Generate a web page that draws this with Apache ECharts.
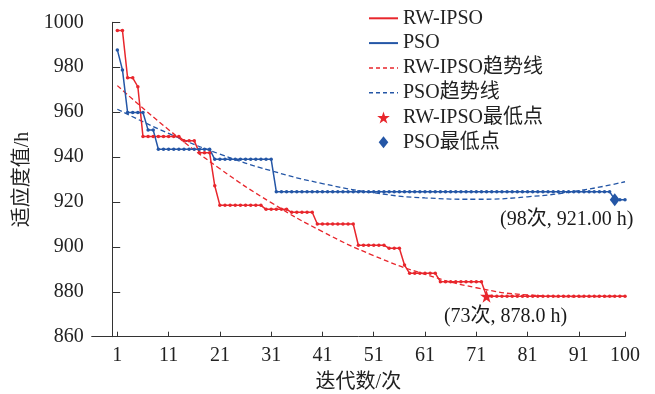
<!DOCTYPE html>
<html><head><meta charset="utf-8">
<script src="https://cdn.jsdelivr.net/npm/echarts@6/dist/echarts.min.js"></script>
<style>html,body{margin:0;padding:0;background:#fff}#c{width:655px;height:394px}</style>
</head><body><div id="c"></div>
<script>
// Iteration numbers 1..100
const iterations = Array.from({length: 100}, (_, i) => i + 1);

// RW-IPSO fitness per iteration
const rwIpso = [
  996.3, 996.3, 975.3, 975.3, 971.3,
  949.1, 949.1, 949.1, 949.1, 949.1, 949.1, 949.1, 949.1,
  947.2, 947.2, 947.2,
  941.9, 941.9, 941.9,
  927.2,
  918.5, 918.5, 918.5, 918.5, 918.5, 918.5, 918.5, 918.5, 918.5,
  916.7, 916.7, 916.7, 916.7, 916.7,
  915.4, 915.4, 915.4, 915.4, 915.4,
  910.2, 910.2, 910.2, 910.2, 910.2, 910.2, 910.2, 910.2,
  900.7, 900.7, 900.7, 900.7, 900.7, 900.7,
  899.4, 899.4, 899.4,
  891.9,
  888.2, 888.2, 888.2, 888.2, 888.2, 888.2,
  884.5, 884.5, 884.5, 884.5, 884.5, 884.5, 884.5, 884.5, 884.5,
  878.0, 878.0, 878.0, 878.0, 878.0, 878.0, 878.0, 878.0, 878.0, 878.0,
  878.0, 878.0, 878.0, 878.0, 878.0, 878.0, 878.0, 878.0, 878.0, 878.0,
  878.0, 878.0, 878.0, 878.0, 878.0, 878.0, 878.0, 878.0
];

// PSO fitness per iteration
const pso = [
  987.7, 978.8,
  959.8, 959.8, 959.8, 959.8,
  952.0, 952.0,
  943.5, 943.5, 943.5, 943.5, 943.5, 943.5, 943.5, 943.5, 943.5, 943.5, 943.5,
  939.0, 939.0, 939.0, 939.0, 939.0, 939.0, 939.0, 939.0, 939.0, 939.0, 939.0, 939.0,
  924.6, 924.6, 924.6, 924.6, 924.6, 924.6, 924.6, 924.6, 924.6, 924.6,
  924.6, 924.6, 924.6, 924.6, 924.6, 924.6, 924.6, 924.6, 924.6, 924.6,
  924.6, 924.6, 924.6, 924.6, 924.6, 924.6, 924.6, 924.6, 924.6, 924.6,
  924.6, 924.6, 924.6, 924.6, 924.6, 924.6, 924.6, 924.6, 924.6, 924.6,
  924.6, 924.6, 924.6, 924.6, 924.6, 924.6, 924.6, 924.6, 924.6, 924.6,
  924.6, 924.6, 924.6, 924.6, 924.6, 924.6, 924.6, 924.6, 924.6, 924.6,
  924.6, 924.6, 924.6, 924.6, 924.6, 924.6,
  921.0, 921.0, 921.0
];

// Trend lines
const trendIters = [1, 11, 21, 31, 41, 51, 61, 71, 81, 91, 100];
const rwTrend  = [971.8, 952.2, 934.8, 919.7, 906.8, 896.1, 887.8, 881.8, 878.6, 877.8, 878.0];
const psoTrend = [961.3, 950.5, 941.3, 933.9, 928.2, 924.1, 921.8, 921.2, 922.3, 925.0, 929.0];

// Minimum points
const rwMin  = [73, 878.0];
const psoMin = [98, 921.0];

// Axis ticks
const xTicks = [1, 11, 21, 31, 41, 51, 61, 71, 81, 91, 100];
const yTicks = [860, 880, 900, 920, 940, 960, 980, 1000];

const names = ['RW-IPSO', 'PSO', 'RW-IPSO趋势线', 'PSO趋势线', 'RW-IPSO最低点', 'PSO最低点'];
const RED = '#e8262c', BLUE = '#2456a6';
const FONT = "'Liberation Serif', 'Times New Roman', 'Noto Sans CJK SC', serif";
const STAR = 'path://M50,0 L61.2,34.5 L97.6,34.5 L68.2,55.9 L79.4,90.5 L50,69.1 L20.6,90.5 L31.8,55.9 L2.4,34.5 L38.8,34.5 Z';
const DIAMOND = 'path://M40,0 L80,50 L40,100 L0,50 Z';

const pair = (xs, ys) => xs.map((x, i) => [x, ys[i]]);

const chart = echarts.init(document.getElementById('c'), null, {renderer: 'canvas'});
chart.setOption({
  animation: false,
  backgroundColor: '#fff',
  grid: {left: 91.7, right: 30, top: 22.3, bottom: 57.3, containLabel: false, outerBoundsMode: 'none'},
  legend: {
    left: 368, top: 8.3, orient: 'vertical', padding: 0,
    itemWidth: 29, itemHeight: 12, itemGap: 4.8,
    textStyle: {fontFamily: FONT, fontSize: 20, color: '#222', lineHeight: 20},
    data: [
      {name: names[0], itemStyle: {opacity: 0}, lineStyle: {width: 2}},
      {name: names[1], itemStyle: {opacity: 0}, lineStyle: {width: 2}},
      {name: names[2], itemStyle: {opacity: 0}, lineStyle: {width: 1.5, type: [4, 3]}},
      {name: names[3], itemStyle: {opacity: 0}, lineStyle: {width: 1.5, type: [4, 3]}},
      {name: names[4], icon: STAR, itemStyle: {opacity: 1}},
      {name: names[5], icon: DIAMOND, itemStyle: {opacity: 1}}
    ]
  },
  xAxis: {
    type: 'value', min: -4, max: 100,
    name: '迭代数/次', nameLocation: 'middle', nameGap: 36,
    nameTextStyle: {fontFamily: FONT, fontSize: 20, color: '#222'},
    splitLine: {show: false},
    axisLine: {lineStyle: {color: '#333', width: 1}},
    axisTick: {inside: true, length: 5, lineStyle: {color: '#333'}, customValues: xTicks},
    axisLabel: {customValues: xTicks, fontFamily: FONT, fontSize: 20, color: '#222', margin: 9}
  },
  yAxis: {
    type: 'value', min: 860, max: 1000, interval: 20,
    name: '适应度值/h', nameLocation: 'middle', nameGap: 57, nameRotate: 90,
    nameTextStyle: {fontFamily: FONT, fontSize: 20, color: '#222'},
    splitLine: {show: false},
    axisLine: {show: true, lineStyle: {color: '#333', width: 1}},
    axisTick: {show: true, inside: true, length: 8, lineStyle: {color: '#333'}},
    axisLabel: {fontFamily: FONT, fontSize: 20, color: '#222', margin: 8,
      customValues: yTicks, formatter: v => String(v)}
  },
  series: [
    {name: names[0], type: 'line', data: pair(iterations, rwIpso),
     symbol: 'circle', symbolSize: 3.5, showSymbol: true,
     lineStyle: {color: RED, width: 1.5}, itemStyle: {color: RED}, z: 3},
    {name: names[1], type: 'line', data: pair(iterations, pso),
     symbol: 'circle', symbolSize: 3.5, showSymbol: true,
     lineStyle: {color: BLUE, width: 1.5}, itemStyle: {color: BLUE}, z: 3},
    {name: names[2], type: 'line', data: pair(trendIters, rwTrend), smooth: 0.5,
     symbol: 'none', lineStyle: {color: RED, width: 1.3, type: [5, 3]}, itemStyle: {color: RED}, z: 2},
    {name: names[3], type: 'line', data: pair(trendIters, psoTrend), smooth: 0.5,
     symbol: 'none', lineStyle: {color: BLUE, width: 1.3, type: [5, 3]}, itemStyle: {color: BLUE}, z: 2},
    {name: names[4], type: 'scatter', data: [rwMin], symbol: STAR, symbolSize: 13,
     itemStyle: {color: RED, opacity: 1}, z: 5,
     label: {show: true, position: 'inside', offset: [19, 20], color: '#1a1a1a',
       textBorderWidth: 0, textBorderColor: 'transparent',
       fontFamily: FONT, fontSize: 20, formatter: p => '(' + p.value[0] + '次, ' + p.value[1].toFixed(1) + ' h)'}},
    {name: names[5], type: 'scatter', data: [psoMin], symbol: DIAMOND, symbolSize: [10, 13],
     itemStyle: {color: BLUE, opacity: 1}, z: 5,
     label: {show: true, position: 'inside', offset: [-48, 20], color: '#1a1a1a',
       textBorderWidth: 0, textBorderColor: 'transparent',
       fontFamily: FONT, fontSize: 20, formatter: p => '(' + p.value[0] + '次, ' + p.value[1].toFixed(2) + ' h)'}}
  ]
});
</script>
</body></html>
